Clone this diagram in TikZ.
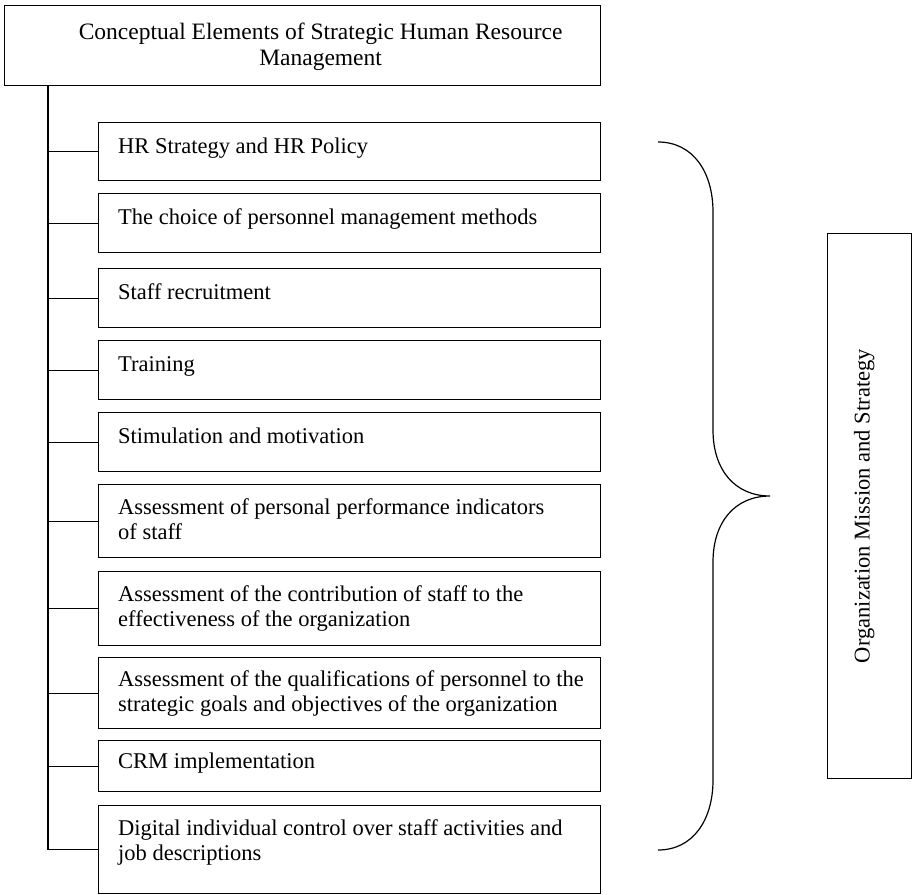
\documentclass[tikz,border=0pt]{standalone}
\usepackage{fontspec}
\setmainfont{Liberation Serif}
\usetikzlibrary{calc}
\begin{document}
\begin{tikzpicture}[x=1pt,y=-1pt,
  frame/.style={draw, line width=1.2pt, inner sep=0pt, anchor=north west},
  itembox/.style={frame, minimum width=502pt},
  lbl/.style={inner sep=0pt, anchor=north west, align=left,
              font=\fontsize{22.5}{25.5}\selectfont},
  link/.style={draw, line width=1.2pt}]
\useasboundingbox (0,0) rectangle (912,894);

% heading box
\node[frame, minimum width=596pt, minimum height=80pt] (title) at (4,5) {};
\node[align=center, inner sep=0pt, font=\fontsize{23.5}{26}\selectfont]
  (titletext) at ($(title.center)+(18,1)$)
  {Conceptual Elements of Strategic Human Resource\\Management};

% list of elements
\node[itembox, minimum height=58pt] (b1) at (98,122) {};
\node[itembox, minimum height=59pt] (b2) at (98,193) {};
\node[itembox, minimum height=59pt] (b3) at (98,268) {};
\node[itembox, minimum height=59pt] (b4) at (98,340) {};
\node[itembox, minimum height=59pt] (b5) at (98,412) {};
\node[itembox, minimum height=73pt] (b6) at (98,484) {};
\node[itembox, minimum height=74pt] (b7) at (98,571) {};
\node[itembox, minimum height=71pt] (b8) at (98,657) {};
\node[itembox, minimum height=51pt] (b9) at (98,740) {};
\node[itembox, minimum height=88pt] (b10) at (98,805) {};

\node[lbl] (t1) at ($(b1.north west)+(20,13)$) {\strut HR Strategy and HR Policy};
\node[lbl] (t2) at ($(b2.north west)+(20,13)$) {\strut The choice of personnel management methods};
\node[lbl] (t3) at ($(b3.north west)+(20,13)$) {\strut Staff recruitment};
\node[lbl] (t4) at ($(b4.north west)+(20,13)$) {\strut Training};
\node[lbl] (t5) at ($(b5.north west)+(20,13)$) {\strut Stimulation and motivation};
\node[lbl] (t6) at ($(b6.north west)+(20,12)$) {\strut Assessment of personal performance indicators\\of staff};
\node[lbl] (t7) at ($(b7.north west)+(20,12)$) {\strut Assessment of the contribution of staff to the\\effectiveness of the organization};
\node[lbl] (t8) at ($(b8.north west)+(20,11)$) {\strut Assessment of the qualifications of personnel to the\\strategic goals and objectives of the organization};
\node[lbl] (t9) at ($(b9.north west)+(20,10)$) {\strut CRM implementation};
\node[lbl] (t10) at ($(b10.north west)+(20,12)$) {\strut Digital individual control over staff activities and\\job descriptions};

% trunk and branches
\coordinate (trunk) at ($(title.south west)+(44,0)$);
\draw[link] (trunk) |- (b10.west);
\foreach \i in {1,...,9}{
  \draw[link] (b\i.west) -- (b\i.west -| trunk);
}

% mission box
\node[frame, minimum width=83.5pt, minimum height=545pt] (mission) at (827,233) {};
\node[rotate=90, inner sep=0pt, font=\fontsize{22.5}{25.5}\selectfont]
  (missiontext) at ($(mission.center)+(-5,0)$) {Organization Mission and Strategy};

% curly brace
\coordinate (brtop) at (658,142);
\coordinate (brtip) at (770,496);
\coordinate (brbot) at (658,850);
\draw[line width=1.2pt]
  (brtop) .. controls (693,142) and (713,172) .. (713,212)
  -- (713,430)
  .. controls (713,470) and (735,496) .. (brtip)
  .. controls (735,496) and (713,522) .. (713,562)
  -- (713,780)
  .. controls (713,820) and (693,850) .. (brbot);
\end{tikzpicture}
\end{document}
